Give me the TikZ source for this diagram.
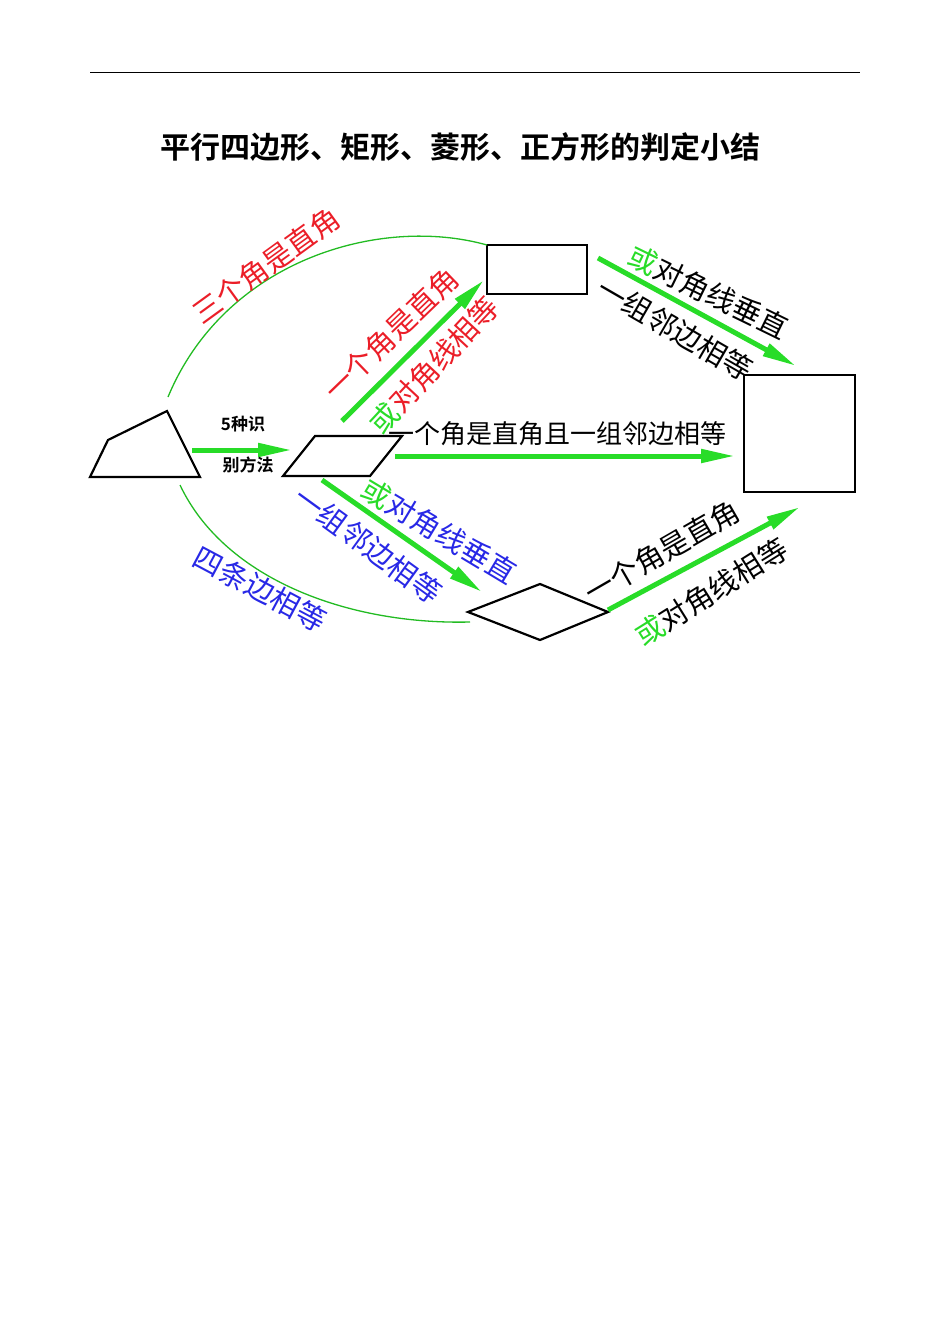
\documentclass[tikz,border=0pt]{standalone}
\usepackage{fontspec}
\setmainfont{Noto Sans CJK SC}
\newfontfamily\cjkb{Noto Sans CJK SC Bold}
\usetikzlibrary{arrows.meta}
\definecolor{gr}{RGB}{40,220,40}
\definecolor{rd}{RGB}{235,30,40}
\definecolor{bl}{RGB}{40,40,230}
\tikzset{
  shp/.style={draw=black,line width=2.2pt,line join=miter},
  fat/.style={draw=gr,line width=5pt,-{Triangle[length=34pt,width=13pt]}},
  arc/.style={draw=gr!85!black,line width=1.3pt},
  lab/.style={font=\fontsize{29}{29}\selectfont,inner sep=0pt},
}
\begin{document}
\begin{tikzpicture}[x=1pt,y=-1pt]
\useasboundingbox (0,0) rectangle (950,1344);
\draw[line width=1pt] (90,72) -- (860,72);
\node[font=\cjkb\fontsize{30}{30}\selectfont] (title) at (460,147) {平行四边形、矩形、菱形、正方形的判定小结};
% shapes
\draw[shp] (90,477) -- (108,440) -- (167,411) -- (200,477) -- cycle;
\draw[shp] (283,476) -- (315,436) -- (402,436) -- (370,476) -- cycle;
\draw[shp] (487,245) rectangle (587,294);
\draw[shp] (744,375) rectangle (855,492);
\draw[shp] (468,612) -- (540,584) -- (608,612) -- (540,640) -- cycle;
% connector endpoints
\coordinate (a1) at (192,450); \coordinate (b1) at (292,450);
\coordinate (a2) at (342,421); \coordinate (b2) at (484,280);
\coordinate (a3) at (395,456); \coordinate (b3) at (735,456);
\coordinate (a4) at (322,480); \coordinate (b4) at (482,592);
\coordinate (a5) at (598,258); \coordinate (b5) at (796,366);
\coordinate (a6) at (608,610); \coordinate (b6) at (800,507);
\coordinate (c1) at (168,397); \coordinate (d1) at (487,245);
\coordinate (c2) at (180,485); \coordinate (d2) at (470,622);
% curves
\draw[arc] (c1) .. controls (225,260) and (380,215) .. (d1);
\draw[arc] (c2) .. controls (225,580) and (350,625) .. (d2);
% arrows
\foreach \i in {1,...,6} \draw[fat] (a\i) -- (b\i);
% labels
\node[font=\cjkb\fontsize{17}{17}\selectfont] (t5a) at (243,424) {5种识};
\node[font=\cjkb\fontsize{17}{17}\selectfont] (t5b) at (248,465) {别方法};
\node[lab,text=rd,rotate=36] (l1) at (266,266) {三个角是直角};
\node[lab,text=rd,rotate=44] (l2) at (391,334) {一个角是直角};
\node[lab,text=rd,rotate=47] (l3) at (434,365) {\textcolor{gr}{或}对角线相等};
\node[lab,anchor=west,font=\fontsize{26}{26}\selectfont] (l4) at (388,434) {一个角是直角且一组邻边相等};
\node[lab,text=bl,rotate=-36] (l5) at (368,545) {一组邻边相等};
\node[lab,text=bl,rotate=-31] (l6) at (439,531) {\textcolor{gr}{或}对角线垂直};
\node[lab,text=bl,rotate=-28] (l7) at (260,589) {四条边相等};
\node[lab,rotate=-26] (l8) at (708,292) {\textcolor{gr}{或}对角线垂直};
\node[lab,rotate=-30] (l9) at (675,329) {一组邻边相等};
\node[lab,rotate=30] (l10) at (662,552) {一个角是直角};
\node[lab,rotate=32] (l11) at (711,592) {\textcolor{gr}{或}对角线相等};
\end{tikzpicture}
\end{document}
